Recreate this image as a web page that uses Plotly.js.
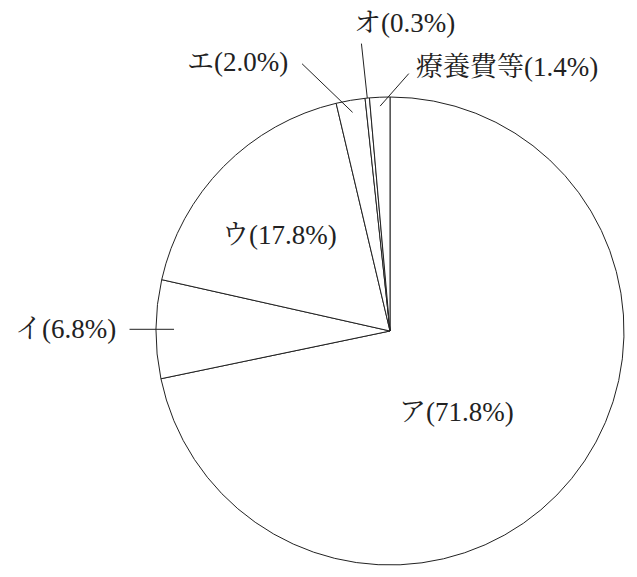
<!DOCTYPE html>
<html>
<head>
<meta charset="utf-8">
<script src="https://cdn.plot.ly/plotly-3.0.1.min.js"></script>
<style>
  html, body { margin: 0; padding: 0; background: #fff; }
  #chart { width: 637px; height: 577px; }
</style>
</head>
<body>
<div id="chart"></div>
<script>
var labels = ['ア', 'イ', 'ウ', 'エ', 'オ', '療養費等'];
var shares = [71.8, 6.8, 17.8, 2.0, 0.3, 1.4];

var W = 637, H = 577;
var cx = 390, cy = 331, R = 234;
var font = { family: "'Liberation Serif', 'Noto Serif CJK JP', 'Noto Sans CJK JP', serif", size: 27, color: '#222' };

// label placement: radius fraction on the slice's middle angle, text offset in px,
// and an optional leader line tail (px from the head)
var place = {
  'ア': { r: 0.45, dx: -15, dy: 15 },
  'イ': { r: 0.923, dx: -109, dy: 0, lx: -46, ly: 0 },
  'ウ': { r: 0.62, dx: -7, dy: 6 },
  'エ': { r: 0.948, dx: -115, dy: -50, lx: -52, ly: -50 },
  'オ': { r: 1.0, dx: 37, dy: -75, lx: -6, ly: -56 },
  '療養費等': { r: 0.962, dx: 127, dy: -39, lx: 30, ly: -34 }
};

var total = shares.reduce(function (a, b) { return a + b; }, 0);
var annotations = [];
var cum = 0;
labels.forEach(function (lab, i) {
  var mid = (cum + shares[i] / 2) / total * 2 * Math.PI;
  cum += shares[i];
  var p = place[lab];
  var px = cx + p.r * R * Math.sin(mid);
  var py = cy - p.r * R * Math.cos(mid);
  var x = px / W, y = 1 - py / H;
  annotations.push({
    xref: 'paper', yref: 'paper', x: x, y: y,
    xanchor: 'center', yanchor: 'middle',
    text: lab + '(' + shares[i].toFixed(1) + '%)',
    showarrow: false, xshift: p.dx, yshift: -p.dy,
    font: font
  });
  if (p.lx !== undefined) {
    annotations.push({
      xref: 'paper', yref: 'paper', x: x, y: y,
      text: '', showarrow: true, arrowhead: 0, arrowwidth: 1,
      arrowcolor: '#222', standoff: 0, startstandoff: 0,
      ax: p.lx, ay: p.ly
    });
  }
});

var data = [{
  type: 'pie',
  labels: labels,
  values: shares,
  sort: false,
  direction: 'clockwise',
  rotation: 0,
  textinfo: 'none',
  hoverinfo: 'none',
  domain: { x: [(cx - R) / W, (cx + R) / W], y: [1 - (cy + R) / H, 1 - (cy - R) / H] },
  marker: { colors: labels.map(function () { return '#fff'; }), line: { color: '#222', width: 1 } }
}];

var layout = {
  width: W, height: H,
  margin: { l: 0, r: 0, t: 0, b: 0 },
  paper_bgcolor: '#fff',
  showlegend: false,
  annotations: annotations
};

Plotly.newPlot('chart', data, layout, { staticPlot: true });
</script>
</body>
</html>
